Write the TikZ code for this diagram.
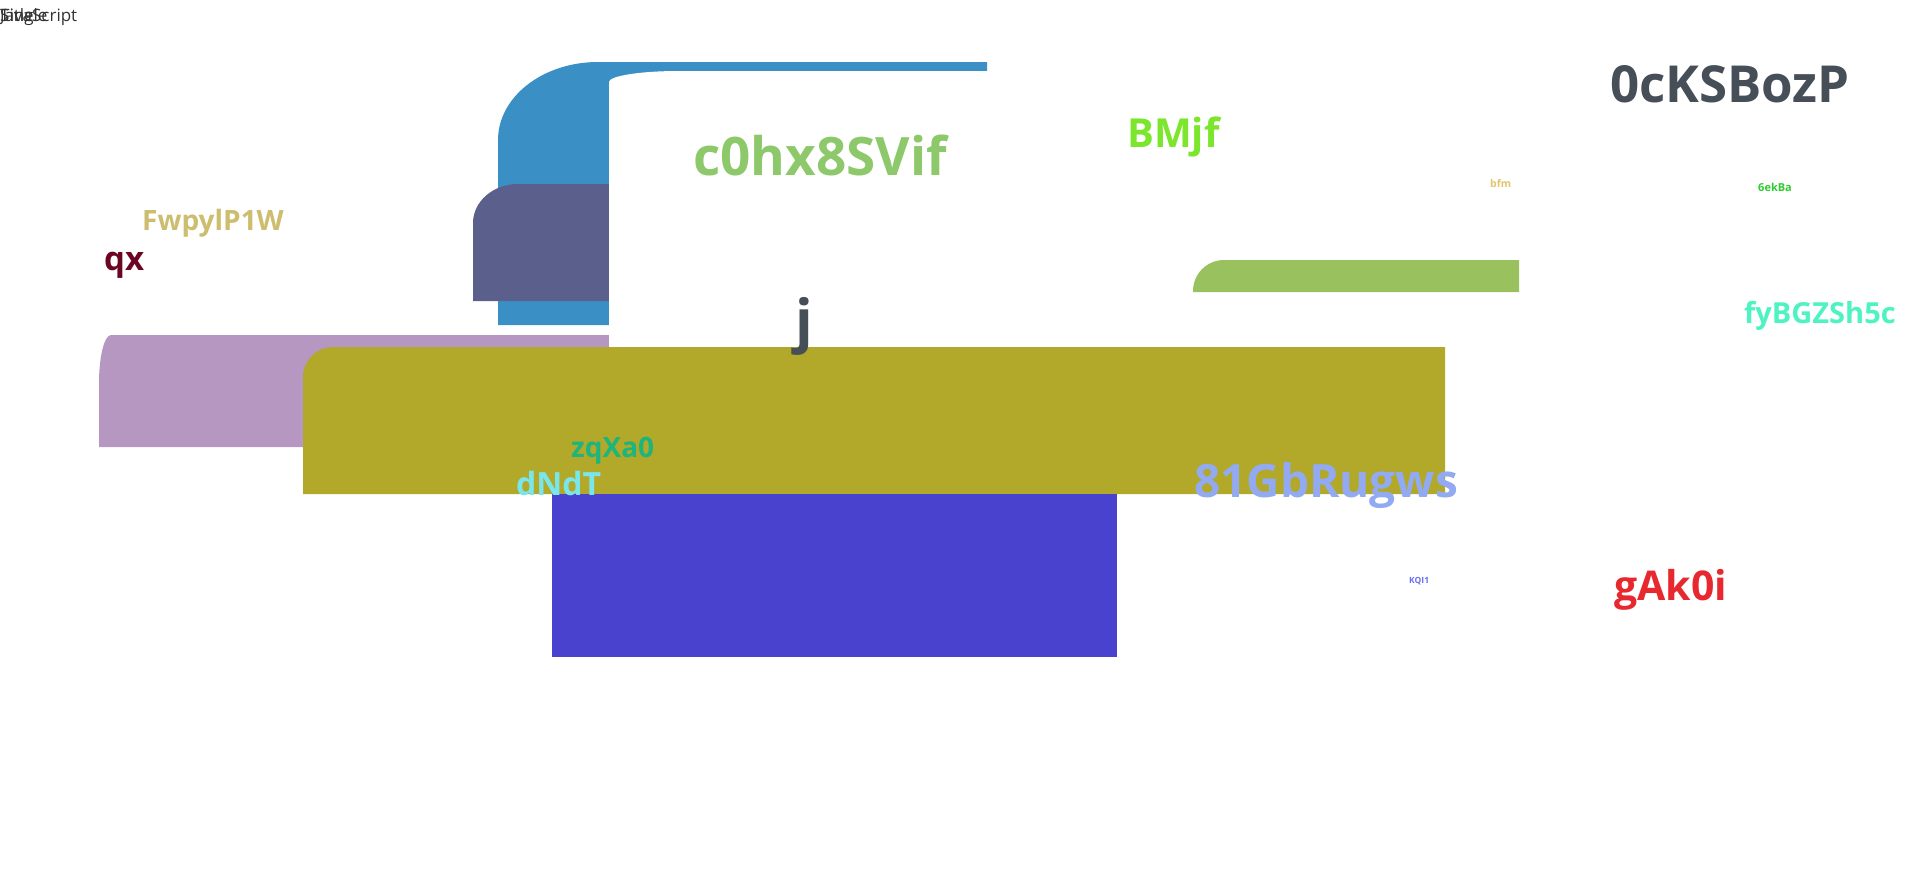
\documentclass[tikz,border=0pt]{standalone}
\usepackage{fontspec}
\setmainfont{Open Sans}
\usepackage{tikz}
\definecolor{cblue}{HTML}{3A90C5}
\definecolor{cslate}{HTML}{5B5F8B}
\definecolor{clilac}{HTML}{B697C1}
\definecolor{colive}{HTML}{B2A829}
\definecolor{cviolet}{HTML}{4842CF}
\definecolor{cgreenbar}{HTML}{99C25E}
\definecolor{tgreen}{HTML}{8DC96B}
\definecolor{tlime}{HTML}{7CE62C}
\definecolor{tslate}{HTML}{464E57}
\definecolor{ttan}{HTML}{E3C46D}
\definecolor{tleaf}{HTML}{2DCB2D}
\definecolor{taqua}{HTML}{4FF3C2}
\definecolor{tsand}{HTML}{CDBD6F}
\definecolor{twine}{HTML}{6B0522}
\definecolor{tteal}{HTML}{1CB57F}
\definecolor{tcyan}{HTML}{79E6EC}
\definecolor{tsky}{HTML}{92AAF2}
\definecolor{tindigo}{HTML}{6A6CF2}
\definecolor{tred}{HTML}{E8282F}
\newcommand{\fsz}[1]{\fontsize{#1}{#1}\selectfont}
\tikzset{
  txt/.style={anchor=base west, inner sep=0pt, font=\bfseries\fsz{#1}},
  toptxt/.style={anchor=base west, inner sep=0pt, font=\fsz{17}, text=black!80},
}
\begin{document}
\begin{tikzpicture}[x=1pt,y=-1pt]
		\useasboundingbox (0,0) rectangle (1920,870);
		\fill[cblue](498,325) -- (498,140) arc[start angle=180,end angle=270,x radius=100,y radius=78] -- (987,62) -- (987,325) -- cycle;
		\fill[cslate](473,301) -- (473,223) arc[start angle=180,end angle=270,x radius=45,y radius=39] -- (609,184) -- (609,301) -- cycle;
		\fill[clilac](99,447) -- (99,383) arc[start angle=180,end angle=270,x radius=12,y radius=48] -- (609,335) -- (609,447) -- cycle;
		\fill[white](609,347) -- (609,82) arc[start angle=180,end angle=270,x radius=70,y radius=11] -- (1000,71) -- (1000,347) -- cycle;
		\fill[colive](303,494) -- (303,377) arc[start angle=180,end angle=270,radius=30] -- (1445,347) -- (1445,494) -- cycle;
		\fill[cviolet](552,494) rectangle (1117,657);
		\fill[cgreenbar](1193,292) -- (1193,291) arc[start angle=180,end angle=270,x radius=31,y radius=31] -- (1519,260) -- (1519,292) -- cycle;
		\node[toptxt] (t1) at (0,21){Title};
		\node[toptxt] (t2) at (0,21){Single};
		\node[toptxt] (t3) at (0,21){JavaScript};
		\node[txt=53,text=tgreen] (c0hx) at (693,175){c0hx8SVif};
		\node[txt=40,text=tlime] (bmjf) at (1127,147){BMjf};
		\node[txt=51,text=tslate] (ocks) at (1610,102){0cKSBozP};
		\node[txt=10.5,text=ttan] (bfm) at (1490,187){bfm};
		\node[txt=11,text=tleaf] (ekba) at (1758,191){6ekBa};
		\node[txt=29,text=taqua] (fybg) at (1744,323){fyBGZSh5c};
		\node[txt=28,text=tsand] (fwpy) at (142,230){FwpylP1W};
		\node[txt=33,text=twine] (qx) at (104,270){qx};
		\node[txt=58,text=tslate] (j) at (795,341){j};
		\node[txt=28,text=tteal] (zqxa) at (571,457){zqXa0};
		\node[txt=32,text=tcyan] (dndt) at (516,495){dNdT};
		\node[txt=46,text=tsky] (gbru) at (1194,497){81GbRugws};
		\node[txt=8.5,text=tindigo] (kqi) at (1409,583){KQI1};
		\node[txt=41,text=tred] (gak) at (1614,600){gAk0i};
\end{tikzpicture}
\end{document}
